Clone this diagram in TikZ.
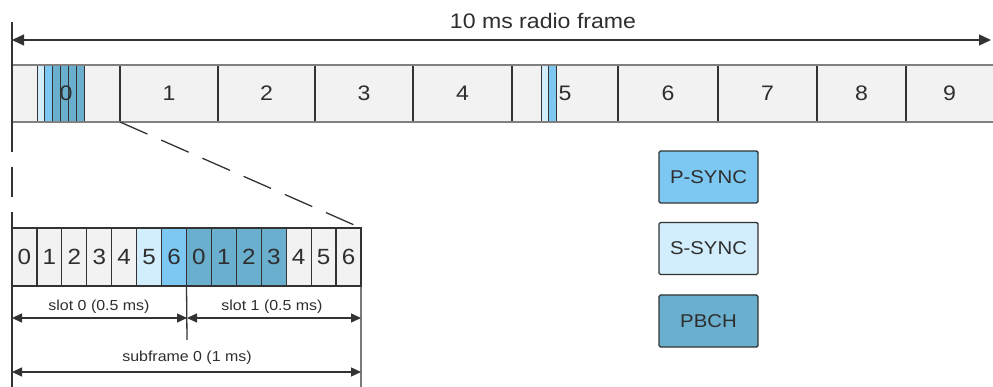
\documentclass[tikz,border=0pt]{standalone}
\usepackage{fontspec}
\setmainfont{Liberation Sans}[FakeStretch=1.1]
\usetikzlibrary{arrows.meta}
\definecolor{cellgray}{HTML}{F2F2F2}
\definecolor{ssync}{HTML}{D2EEFC}
\definecolor{psync}{HTML}{7CC8F2}
\definecolor{pbch}{HTML}{6BAFCF}
\definecolor{edge}{HTML}{333333}
\definecolor{baredge}{HTML}{808080}
\definecolor{txt}{HTML}{2E2E2E}
\tikzset{
  sfbox/.style={rectangle, fill=cellgray, inner sep=0pt, outer sep=0pt, minimum height=57pt, anchor=north west},
  stripe/.style={rectangle, draw=edge, line width=0.9pt, inner sep=0pt, outer sep=0pt, minimum height=57pt, minimum width=7.83pt, anchor=north west},
  cellbox/.style={rectangle, draw=edge, line width=1.2pt, inner sep=0pt, outer sep=0pt, minimum height=58pt, minimum width=24.93pt, anchor=north west, text=txt, font=\fontsize{22}{25}\selectfont},
  divider/.style={draw=edge, line width=1.3pt},
  baredge/.style={draw=baredge, line width=2pt},
  bigtxt/.style={text=txt, font=\fontsize{21}{24}\selectfont, inner sep=0pt},
  smalltxt/.style={text=txt, font=\fontsize{14.5}{17}\selectfont, inner sep=0pt},
  dim/.style={draw=edge, line width=1.3pt, {Triangle[length=10pt,width=9pt]}-{Triangle[length=10pt,width=9pt]}},
  dimbig/.style={draw=edge, line width=1.4pt, {Triangle[length=12pt,width=11pt]}-{Triangle[length=12pt,width=11pt]}},
  zoomline/.style={draw=edge, line width=1.3pt, dash pattern=on 30pt off 15pt},
  legendbox/.style={rectangle, draw=edge, line width=1.4pt, rounded corners=1.5pt, minimum width=99pt, minimum height=52pt, text=txt, font=\fontsize{18.5}{21}\selectfont},
}
\begin{document}
\begin{tikzpicture}[x=1pt,y=-1pt]
\useasboundingbox (0,0) rectangle (993,387);
% radio frame subframes
\foreach \i/\a/\b in {0/12/120,1/120/218,2/218/315,3/315/413,4/413/512,5/512/618,6/618/718,7/718/817,8/817/906,9/906/993}{
  \node[sfbox, minimum width={\b pt-\a pt}] (sf\i) at (\a,65) {};
}
% stripes in subframe 0
\foreach \k/\c in {1/ssync,2/psync,3/pbch,4/pbch,5/pbch,6/pbch}{
  \node[stripe, fill=\c] (st\k) at ({37+(\k-1)*7.83},65) {};
}
% stripes in subframe 5
\node[stripe, fill=ssync, minimum width=7.5pt] (sq1) at (541,65) {};
\node[stripe, fill=psync, minimum width=7.5pt] (sq2) at (548.5,65) {};
% dividers and edges
\foreach \i in {1,...,9}{
  \draw[divider] (sf\i.north west) -- (sf\i.south west);
}
\draw[baredge] (sf0.north west) -- (sf9.north east);
\draw[baredge] (sf0.south west) -- (sf9.south east);
% labels of subframes
\foreach \i in {0,...,9}{
  \node[bigtxt] (lb\i) at (sf\i.center) {\i};
}
% top dimension
\coordinate (topL) at (12,22);
\coordinate (arrL) at (12,40);
\coordinate (arrR) at (991,40);
\draw[divider] (topL) -- (sf0.south west);
\draw[dimbig] (arrL) -- (arrR);
\node[bigtxt] (title) at (543,21) {10 ms radio frame};
% symbol grid
\foreach \k/\c in {0/cellgray,1/cellgray,2/cellgray,3/cellgray,4/cellgray,5/ssync,6/psync,7/pbch,8/pbch,9/pbch,10/pbch,11/cellgray,12/cellgray,13/cellgray}{
  \pgfmathtruncatemacro\d{mod(\k,7)}
  \node[cellbox, fill=\c] (g\k) at ({12+\k*24.93},228) {\d};
}
% zoom lines
\draw[zoomline] (sf0.south west) -- (g0.north west);
\draw[zoomline] (sf1.south west) -- (g13.north east);
% lines below grid
\coordinate (botL) at (12,387);
\coordinate (botR) at (361,387);
\coordinate (midBot) at (187,340);
\draw[divider] (g0.south west) -- (botL);
\draw[divider] (g13.south east) -- (botR);
\draw[divider] (g6.south east) -- (midBot);
\coordinate (s0L) at (12,318);
\coordinate (s0R) at (187,318);
\coordinate (s1R) at (361,318);
\draw[dim] (s0L) -- (s0R);
\draw[dim] (s0R) -- (s1R);
\node[smalltxt] (slot0) at (99,307) {slot 0 (0.5 ms)};
\node[smalltxt] (slot1) at (272,307) {slot 1 (0.5 ms)};
\coordinate (sfL) at (12,372);
\coordinate (sfR) at (361,372);
\draw[dim] (sfL) -- (sfR);
\node[smalltxt] (sfl) at (187,358) {subframe 0 (1 ms)};
% legend
\node[legendbox, fill=psync] (lp) at (708.5,177) {P-SYNC};
\node[legendbox, fill=ssync] (ls) at (708.5,248.5) {S-SYNC};
\node[legendbox, fill=pbch] (lb) at (708.5,321) {PBCH};
\end{tikzpicture}
\end{document}
